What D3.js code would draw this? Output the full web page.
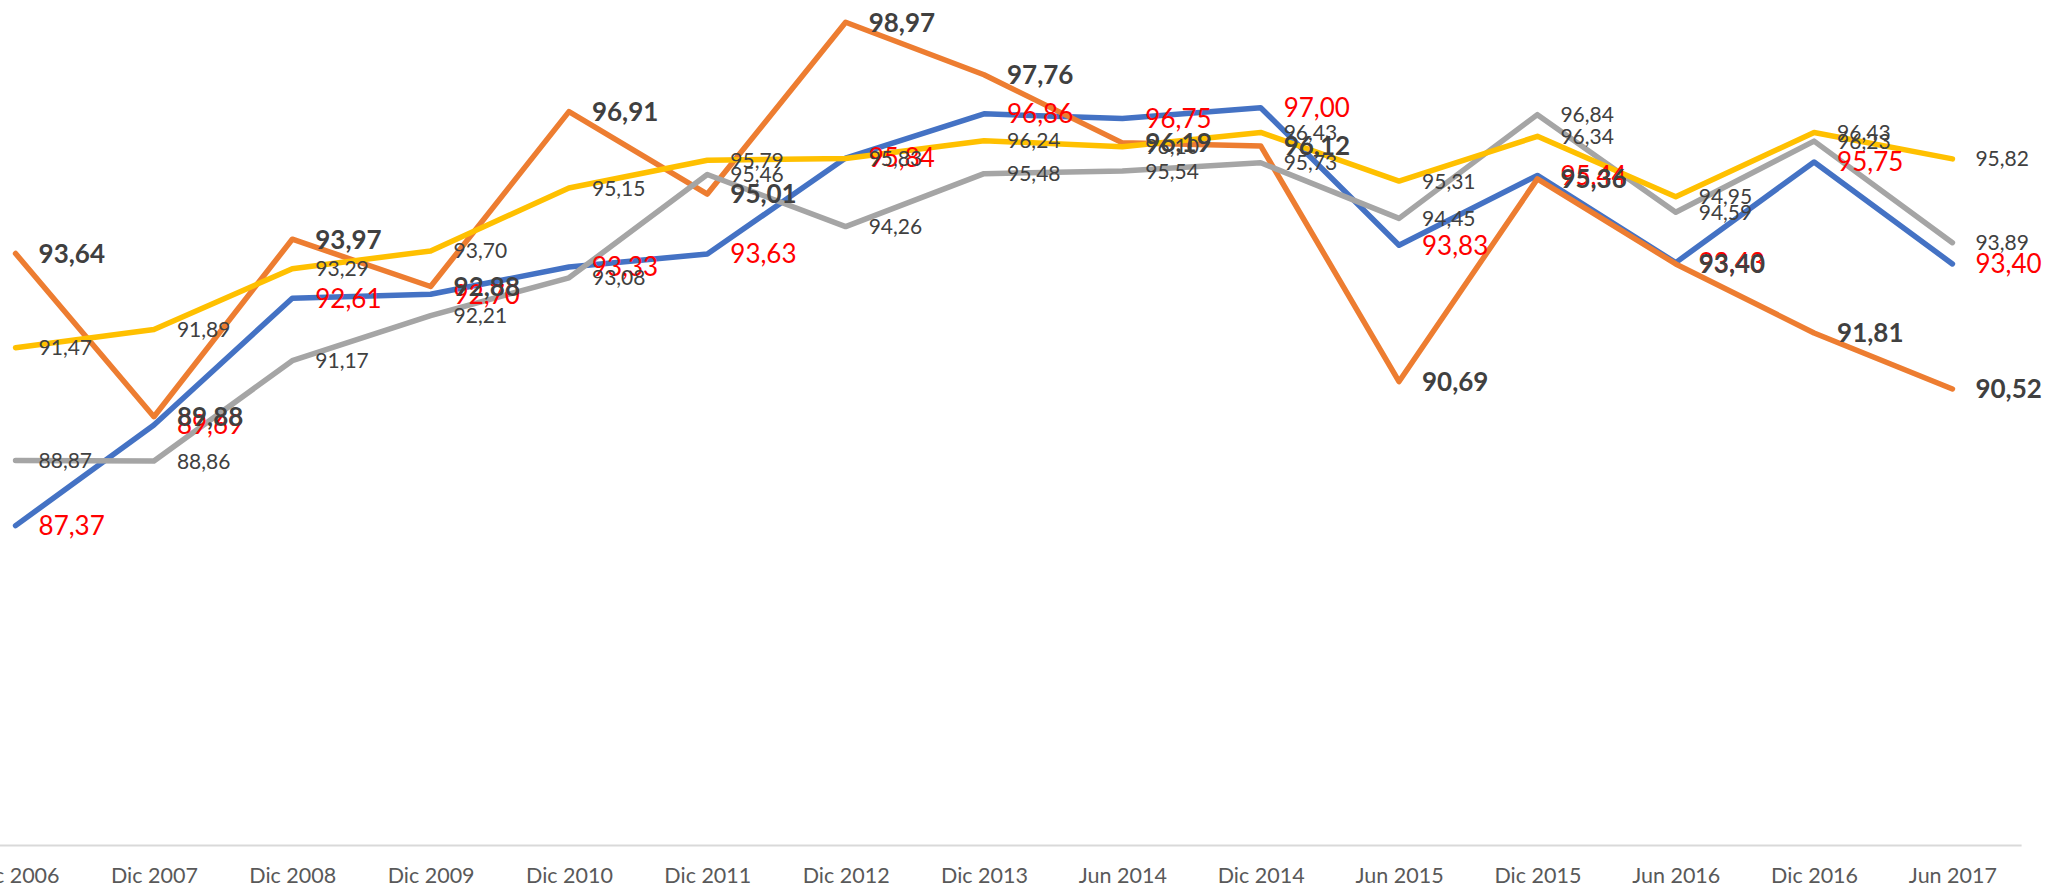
<!DOCTYPE html>
<html>
<head>
<meta charset="utf-8">
<script src="https://cdnjs.cloudflare.com/ajax/libs/d3/7.8.5/d3.min.js"></script>
<style>
  html, body { margin: 0; padding: 0; background: #ffffff; overflow: hidden; }
  svg { display: block; }
</style>
</head>
<body>
<div id="chart"></div>
<script>
var width = 2049, height = 889;

var categories = ["Dic 2006", "Dic 2007", "Dic 2008", "Dic 2009", "Dic 2010", "Dic 2011",
  "Dic 2012", "Dic 2013", "Jun 2014", "Dic 2014", "Jun 2015", "Dic 2015", "Jun 2016",
  "Dic 2016", "Jun 2017"];

var blueValues   = [87.37, 89.69, 92.61, 92.70, 93.33, 93.63, 95.84, 96.86, 96.75, 97.00, 93.83, 95.44, 93.43, 95.75, 93.40];
var orangeValues = [93.64, 89.88, 93.97, 92.88, 96.91, 95.01, 98.97, 97.76, 96.19, 96.12, 90.69, 95.36, 93.40, 91.81, 90.52];
var grayValues   = [88.87, 88.86, 91.17, 92.21, 93.08, 95.46, 94.26, 95.48, 95.54, 95.73, 94.45, 96.84, 94.59, 96.23, 93.89];
var yellowValues = [91.47, 91.89, 93.29, 93.70, 95.15, 95.79, 95.83, 96.24, 96.10, 96.43, 95.31, 96.34, 94.95, 96.43, 95.82];

var yDomain = [80, 100];

// series in excel drawing order, with the look of their labels
var series = [
  { name: "blue",   values: blueValues,   color: "#4472C4", label: "#FF0000", size: 26,   weight: 400 },
  { name: "orange", values: orangeValues, color: "#ED7D31", label: "#404040", size: 26,   weight: 700 },
  { name: "gray",   values: grayValues,   color: "#A5A5A5", label: "#404040", size: 21,   weight: 400 },
  { name: "yellow", values: yellowValues, color: "#FFC000", label: "#404040", size: 21,   weight: 400 }
];

var fontFamily = "Lato, 'Open Sans', sans-serif";

var svg = d3.select("#chart").append("svg")
    .attr("width", width)
    .attr("height", height);

var plotLeft = -53.6, plotRight = 2021.6, plotBottom = 845.5, plotTop = -22.5;

var x = d3.scalePoint()
    .domain(categories)
    .range([plotLeft, plotRight])
    .padding(0.5);

var y = d3.scaleLinear()
    .domain(yDomain)
    .range([plotBottom, plotTop]);

// category axis
var xAxis = d3.axisBottom(x).tickSize(0).tickPadding(22);
var gx = svg.append("g")
    .attr("transform", "translate(0," + plotBottom + ")")
    .call(xAxis);
gx.select(".domain")
    .attr("d", "M" + plotLeft + ",0H" + plotRight)
    .attr("stroke", "#D9D9D9")
    .attr("stroke-width", 2);
gx.selectAll("text")
    .attr("fill", "#595959")
    .attr("font-family", fontFamily)
    .attr("font-size", "21.5px");

var line = d3.line()
    .x(function(d, i) { return x(categories[i]); })
    .y(function(d) { return y(d); });

//LINES
svg.append("g").selectAll("path")
  .data(series)
  .enter().append("path")
    .attr("d", function(s) { return line(s.values); })
    .attr("fill", "none")
    .attr("stroke", function(s) { return s.color; })
    .attr("stroke-width", 5.5)
    .attr("stroke-linejoin", "round")
    .attr("stroke-linecap", "round");

//LABELS
var labelGroups = svg.append("g").selectAll("g")
  .data(series)
  .enter().append("g");

labelGroups.selectAll("text")
  .data(function(s) {
    return s.values.map(function(v, i) { return { v: v, i: i, s: s }; });
  })
  .enter().append("text")
    .text(function(d) { return d.v.toFixed(2).replace(".", ","); })
    .attr("x", function(d) { return x(categories[d.i]) + 23; })
    .attr("y", function(d) { return y(d.v); })
    .attr("dy", "0.36em")
    .attr("fill", function(d) { return d.s.label; })
    .attr("font-size", function(d) { return d.s.size + "px"; })
    .attr("font-weight", function(d) { return d.s.weight; })
    .attr("font-family", fontFamily);
</script>
</body>
</html>
